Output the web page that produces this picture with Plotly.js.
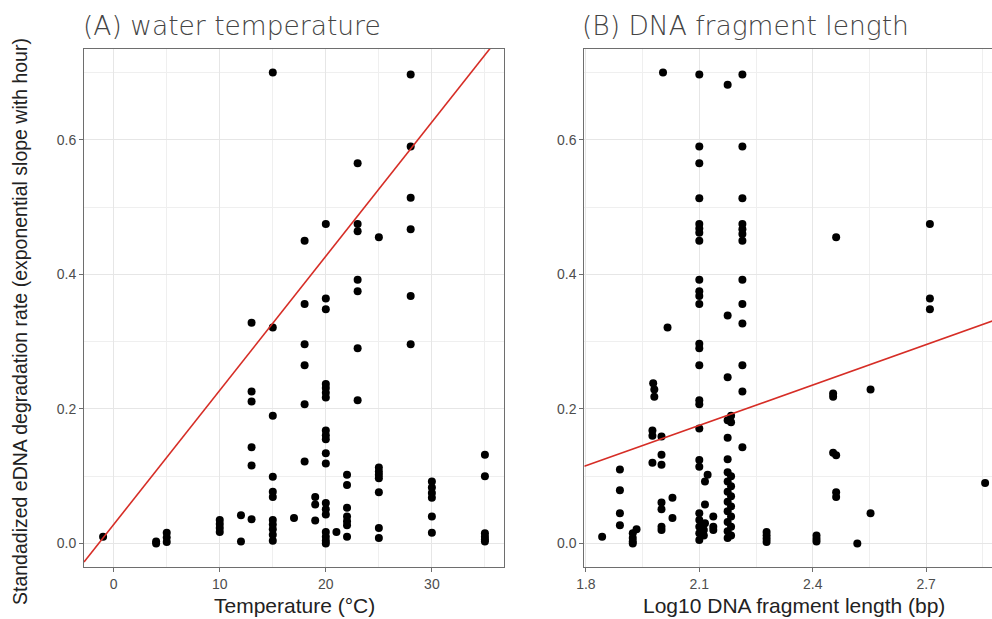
<!DOCTYPE html>
<html>
<head>
<meta charset="utf-8">
<script src="https://cdn.plot.ly/plotly-3.0.1.min.js"></script>
<style>
html,body{margin:0;padding:0;overflow:hidden;background:#fff;}
#chart{width:1010px;height:619px;}
</style>
</head>
<body>
<div id="chart"></div>
<script>
// ---- Data ----
const panelTitles = ["(A) water temperature", "(B) DNA fragment length"];
const xTitles = ["Temperature (°C)", "Log10 DNA fragment length (bp)"];
const yTitle = "Standadized eDNA degradation rate (exponential slope with hour)";

const tempX = [
  -1,
  4, 4,
  5, 5, 5,
  10, 10, 10, 10,
  12, 12,
  13, 13, 13, 13, 13, 13,
  15, 15, 15, 15, 15, 15, 15, 15, 15, 15, 15,
  17,
  18, 18, 18, 18, 18, 18,
  19, 19, 19,
  20, 20, 20, 20, 20, 20, 20, 20, 20, 20, 20, 20, 20, 20, 20, 20, 20, 20, 20,
  21,
  22, 22, 22, 22, 22, 22, 22,
  23, 23, 23, 23, 23, 23, 23,
  25, 25, 25, 25, 25, 25, 25, 25,
  28, 28, 28, 28, 28, 28,
  30, 30, 30, 30, 30, 30,
  35, 35, 35, 35, 35, 35
];
const tempRate = [
  0.010,
  0.003, 0.000,
  0.016, 0.009, 0.002,
  0.035, 0.029, 0.023, 0.017,
  0.042, 0.003,
  0.328, 0.226, 0.211, 0.143, 0.116, 0.036,
  0.700, 0.321, 0.190, 0.099, 0.077, 0.069, 0.035, 0.028, 0.021, 0.013, 0.004,
  0.038,
  0.450, 0.356, 0.296, 0.265, 0.207, 0.122,
  0.069, 0.058, 0.034,
  0.475, 0.364, 0.348, 0.237, 0.231, 0.224, 0.217, 0.168, 0.161, 0.155, 0.134, 0.119, 0.060, 0.051, 0.043, 0.017, 0.010, 0.004, 0.000,
  0.017,
  0.102, 0.087, 0.053, 0.040, 0.033, 0.027, 0.010,
  0.565, 0.475, 0.464, 0.392, 0.375, 0.290, 0.213,
  0.455, 0.113, 0.107, 0.102, 0.097, 0.076, 0.023, 0.008,
  0.697, 0.590, 0.514, 0.467, 0.368, 0.296,
  0.092, 0.083, 0.075, 0.068, 0.040, 0.016,
  0.132, 0.100, 0.015, 0.010, 0.006, 0.003
];

const lenX = [
  1.843,
  1.89, 1.89, 1.89, 1.89,
  1.924, 1.924, 1.924, 1.924,
  1.934,
  1.978, 1.981, 1.981, 1.976, 1.976, 1.976,
  2.0, 2.0, 2.0, 2.0, 2.0, 2.0, 2.0,
  2.004, 2.016, 2.029, 2.029,
  2.1, 2.1, 2.1, 2.1, 2.1, 2.1, 2.1, 2.1, 2.1, 2.1, 2.1, 2.1, 2.1, 2.1, 2.1, 2.1, 2.1, 2.1, 2.1, 2.1, 2.1, 2.1, 2.1, 2.1, 2.1,
  2.115, 2.115, 2.115, 2.122, 2.112, 2.112,
  2.137, 2.137, 2.137,
  2.175, 2.175, 2.175, 2.175, 2.175, 2.175, 2.175, 2.175, 2.175, 2.175, 2.175, 2.175, 2.175, 2.175,
  2.184, 2.184, 2.184, 2.184, 2.184, 2.184, 2.184, 2.184, 2.184,
  2.214, 2.214, 2.214, 2.214, 2.214, 2.214, 2.214, 2.214, 2.214, 2.214, 2.214, 2.214, 2.214,
  2.278, 2.278, 2.278, 2.278,
  2.41, 2.41, 2.41,
  2.454, 2.454, 2.454,
  2.462, 2.462, 2.462, 2.462,
  2.518,
  2.553, 2.553,
  2.71, 2.71, 2.71,
  2.856
];
const lenRate = [
  0.010,
  0.110, 0.079, 0.045, 0.027,
  0.015, 0.008, 0.003, 0.000,
  0.021,
  0.238, 0.229, 0.218, 0.168, 0.160, 0.120,
  0.159, 0.132, 0.117, 0.061, 0.051, 0.025, 0.020,
  0.700, 0.321, 0.068, 0.038,
  0.697, 0.590, 0.565, 0.513, 0.475, 0.468, 0.462, 0.450, 0.392, 0.375, 0.368, 0.356, 0.297, 0.290, 0.265, 0.213, 0.207, 0.171, 0.124, 0.114, 0.045, 0.035, 0.025, 0.015, 0.005,
  0.092, 0.058, 0.030, 0.102, 0.020, 0.012,
  0.040, 0.025, 0.020,
  0.682, 0.339, 0.247, 0.183, 0.157, 0.125, 0.106, 0.092, 0.077, 0.062, 0.048, 0.032, 0.018, 0.008,
  0.190, 0.180, 0.100, 0.085, 0.070, 0.055, 0.040, 0.025, 0.012,
  0.697, 0.590, 0.513, 0.475, 0.467, 0.460, 0.450, 0.392, 0.356, 0.327, 0.265, 0.226, 0.143,
  0.017, 0.012, 0.007, 0.002,
  0.012, 0.007, 0.003,
  0.223, 0.218, 0.135,
  0.455, 0.131, 0.076, 0.069,
  0.000,
  0.229, 0.045,
  0.475, 0.364, 0.348,
  0.090
];

// linear fit coefficients [intercept, slope]
const fitTemp = [0.0282, 0.01994];
const fitLen = [-0.2445, 0.200];

const yTicks = [0, 0.2, 0.4, 0.6];
const xTicksA = [0, 10, 20, 30];
const xTicksB = [1.8, 2.1, 2.4, 2.7];

// ---- Layout geometry ----
const W = 1010, H = 619;
const M = {l: 84, r: 6, t: 49, b: 52};
const PW = W - M.l - M.r, PH = H - M.t - M.b;
const px2x = p => (p - M.l) / PW;
const py2y = p => (H - M.b - p) / PH;

const rangeA = [-2.8, 36.8];
const rangeB = [1.7958, 2.906];
const rangeY = [-0.035, 0.735];

const fitLine = (c, r) => ({x: r, y: r.map(v => c[0] + c[1] * v)});
const lA = fitLine(fitTemp, rangeA);
const lB = fitLine(fitLen, rangeB);

const pt = {color: '#000', size: 8};
const lineStyle = {color: 'rgb(214,45,38)', width: 1.6};

const traces = [
  {x: tempX, y: tempRate, type: 'scatter', mode: 'markers', marker: pt, xaxis: 'x', yaxis: 'y'},
  {x: lA.x, y: lA.y, type: 'scatter', mode: 'lines', line: lineStyle, xaxis: 'x', yaxis: 'y'},
  {x: lenX, y: lenRate, type: 'scatter', mode: 'markers', marker: pt, xaxis: 'x2', yaxis: 'y2'},
  {x: lB.x, y: lB.y, type: 'scatter', mode: 'lines', line: lineStyle, xaxis: 'x2', yaxis: 'y2'}
];

const tickFont = {family: 'Liberation Sans, Arial, sans-serif', size: 14, color: '#4d4d4d'};
const gridC = '#e6e6e6';
const frame = '#6e6e6e';

function xax(domain, range, ticks, minorD, fmt) {
  return {
    domain: domain, range: range, tickmode: 'array', tickvals: ticks,
    ticktext: ticks.map(v => v.toFixed(fmt)),
    showgrid: true, gridcolor: gridC, gridwidth: 1,
    minor: {tickmode: 'linear', dtick: minorD, tick0: ticks[0], showgrid: true, gridcolor: '#efefef', gridwidth: 1, ticks: ''},
    zeroline: false, showline: true, linecolor: frame, linewidth: 1, mirror: true,
    ticks: 'outside', ticklen: 4, tickcolor: frame, tickwidth: 1,
    tickfont: tickFont, fixedrange: true
  };
}
function yax(anchor) {
  return {
    domain: [0, 1], range: rangeY, anchor: anchor, tickmode: 'array', tickvals: yTicks,
    ticktext: yTicks.map(v => v.toFixed(1)),
    showgrid: true, gridcolor: gridC, gridwidth: 1,
    minor: {tickmode: 'linear', dtick: 0.1, tick0: 0, showgrid: true, gridcolor: '#efefef', gridwidth: 1, ticks: ''},
    zeroline: false, showline: true, linecolor: frame, linewidth: 1, mirror: true,
    ticks: 'outside', ticklen: 4, tickcolor: frame, tickwidth: 1,
    tickfont: tickFont, fixedrange: true
  };
}

const titleFont = {family: 'DejaVu Sans, Noto Sans, sans-serif', size: 26.5, color: '#444444', weight: 200};
const xTitleFont = {family: 'Liberation Sans, Arial, sans-serif', size: 21, color: '#222'};
const yTitleFont = {family: 'Liberation Sans, Arial, sans-serif', size: 19.5, color: '#222'};

const annotations = [
  {text: panelTitles[0], xref: 'paper', yref: 'paper', x: px2x(81), y: py2y(25), xanchor: 'left', yanchor: 'middle', showarrow: false, font: titleFont},
  {text: panelTitles[1], xref: 'paper', yref: 'paper', x: px2x(580), y: py2y(25), xanchor: 'left', yanchor: 'middle', showarrow: false, font: titleFont},
  {text: xTitles[0], xref: 'paper', yref: 'paper', x: px2x(294), y: py2y(605), xanchor: 'center', yanchor: 'middle', showarrow: false, font: xTitleFont},
  {text: xTitles[1], xref: 'paper', yref: 'paper', x: px2x(794), y: py2y(605), xanchor: 'center', yanchor: 'middle', showarrow: false, font: xTitleFont},
  {text: yTitle, xref: 'paper', yref: 'paper', x: px2x(20), y: py2y(322), xanchor: 'center', yanchor: 'middle', textangle: -90, showarrow: false, font: yTitleFont}
];

const layout = {
  width: W, height: H, margin: M,
  paper_bgcolor: '#fff', plot_bgcolor: '#fff',
  showlegend: false,
  xaxis: xax([0, 420 / PW], rangeA, xTicksA, 5, 0),
  yaxis: yax('x'),
  xaxis2: xax([(584.3 - M.l) / PW, 1], rangeB, xTicksB, 0.15, 1),
  yaxis2: yax('x2'),
  annotations: annotations
};
layout.xaxis.anchor = 'y';
layout.xaxis2.anchor = 'y2';

Plotly.newPlot('chart', traces, layout, {displayModeBar: false, staticPlot: true});
</script>
</body>
</html>
